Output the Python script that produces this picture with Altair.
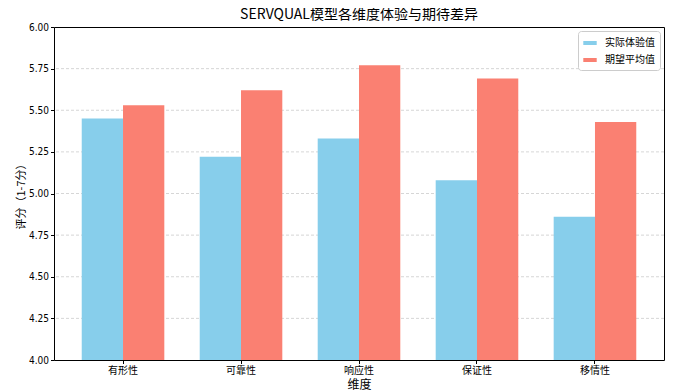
import altair as alt
import pandas as pd

dims = ["有形性", "可靠性", "响应性", "保证性", "移情性"]
actual = [5.45, 5.22, 5.33, 5.08, 4.86]
expected = [5.53, 5.62, 5.77, 5.69, 5.43]
series = ["实际体验值", "期望平均值"]
colors = ["#87CEEB", "#FA8072"]
yticks = [4.00, 4.25, 4.50, 4.75, 5.00, 5.25, 5.50, 5.75, 6.00]
gridvals = yticks[1:-1]

rows = []
for d, a, e in zip(dims, actual, expected):
    rows.append({"维度": d, "系列": series[0], "值": a})
    rows.append({"维度": d, "系列": series[1], "值": e})
df = pd.DataFrame(rows)
grid_df = pd.DataFrame({"值": gridvals})

FONT = "Noto Sans CJK SC"
NUMFONT = "Liberation Sans Narrow, DejaVu Sans Condensed, Noto Sans CJK SC"

yscale = alt.Scale(domain=[4, 6], zero=False, nice=False)

grid = alt.Chart(grid_df).mark_rule(
    strokeDash=[3, 2], color="#cccccc", strokeWidth=0.8
).encode(y=alt.Y("值:Q", scale=yscale))

bars = alt.Chart(df).mark_bar(clip=True).encode(
    x=alt.X("维度:N", sort=dims,
            scale=alt.Scale(paddingInner=0.3, paddingOuter=0.235),
            axis=alt.Axis(title="维度", labelAngle=0, labelFontSize=10,
                          titleFontSize=12, titleFontWeight="normal",
                          domain=False, tickColor="black", tickSize=3.5,
                          labelColor="black", titleColor="black", labelPadding=2,
                          titlePadding=4)),
    xOffset=alt.XOffset("系列:N", sort=series),
    y=alt.Y("值:Q", scale=yscale,
            axis=alt.Axis(title="评分（1-7分）", values=yticks, format=".2f",
                          labelFontSize=10, labelFont=NUMFONT,
                          titleFontSize=11, titleFontWeight="normal",
                          domain=False, tickColor="black", tickSize=3.5,
                          labelColor="black", titleColor="black",
                          labelPadding=2, grid=False, titlePadding=2)),
    y2=alt.datum(4),
    color=alt.Color("系列:N", sort=series,
                    scale=alt.Scale(domain=series, range=colors),
                    legend=alt.Legend(title=None, orient="top-right",
                                      symbolType="M-1,-0.3H1V0.3H-1Z",
                                      symbolSize=180, symbolStrokeWidth=0,
                                      labelFontSize=10, labelColor="black",
                                      strokeColor="#cccccc", padding=5,
                                      cornerRadius=3, fillColor="white",
                                      offset=4, rowPadding=5, labelOffset=8)),
)

chart = alt.layer(grid, bars).properties(
    width=610, height=333,
    padding={"left": 7, "top": 0, "right": 0, "bottom": 0},
    title=alt.Title("SERVQUAL模型各维度体验与期待差异", fontSize=14,
                    fontWeight="normal", color="black", offset=0),
).configure(font=FONT).configure_view(
    stroke="black", strokeWidth=1
)

chart.save("out.html", embed_options={"renderer": "svg", "actions": False})
